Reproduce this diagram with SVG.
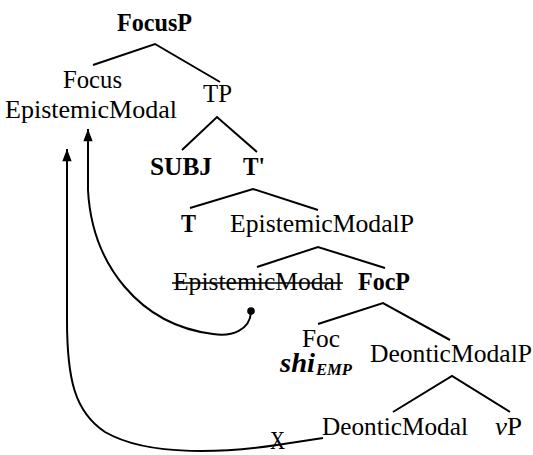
<svg xmlns="http://www.w3.org/2000/svg" width="533" height="455" viewBox="0 0 533 455">
<defs>
<style>
text{font-family:"Liberation Serif",Tinos,"Times New Roman",Times,"Nimbus Roman","Noto Serif","DejaVu Serif",serif;fill:#000}
.r{font-size:25.5px}
.b{font-size:24.5px;font-weight:bold}
.e{fill:none;stroke:#000;stroke-width:2;stroke-linejoin:miter}
.c{fill:none;stroke:#000;stroke-width:2}
</style>
<marker id="ah" markerUnits="userSpaceOnUse" markerWidth="14" markerHeight="14" viewBox="-14 -7 15 14" refX="0" refY="0" orient="auto">
<path d="M0,0 L-13,-5 L-13,5 Z" fill="#000"/>
</marker>
</defs>
<rect width="533" height="455" fill="#fff"/>
<g id="connectors">
<polyline class="e" points="93,65 155,44 220,82"/>
<polyline class="e" points="182,150 217,117 257,152"/>
<polyline class="e" points="190,208 253,189 318,210"/>
<polyline class="e" points="257,267 318,247 385,268"/>
<polyline class="e" points="318,324 383,303 450,340"/>
<polyline class="e" points="393,412 452,376 510,412"/>
<circle cx="251" cy="311" r="3.8" fill="#000"/>
<path class="c" d="M251,312 C250,330 232,337 213,334 C140,325 92,265 88,190 L88,129" marker-end="url(#ah)"/>
<path class="c" d="M323,438 L277,445 C230,452 150,458 105,432 C75,412 67,380 67,320 L67,149" marker-end="url(#ah)"/>
</g>
<g id="FocusP"><text class="b" x="117" y="31" textLength="75" lengthAdjust="spacingAndGlyphs">FocusP</text></g>
<g id="FocusEpistemicModal">
<text class="r" x="63" y="88" textLength="59" lengthAdjust="spacingAndGlyphs">Focus</text>
<text class="r" x="5" y="118" textLength="172" lengthAdjust="spacingAndGlyphs">EpistemicModal</text>
</g>
<g id="TP"><text class="r" x="203" y="102" textLength="29" lengthAdjust="spacingAndGlyphs">TP</text></g>
<g id="SUBJ"><text class="b" x="150" y="175" textLength="62" lengthAdjust="spacingAndGlyphs">SUBJ</text></g>
<g id="Tbar"><text class="b" x="243" y="175" textLength="22" lengthAdjust="spacingAndGlyphs">T'</text></g>
<g id="T"><text class="b" x="181" y="232" textLength="15" lengthAdjust="spacingAndGlyphs">T</text></g>
<g id="EpistemicModalP"><text class="r" x="230" y="232" textLength="184" lengthAdjust="spacingAndGlyphs">EpistemicModalP</text></g>
<g id="EpistemicModalTrace">
<text class="r" x="173" y="290" textLength="169" lengthAdjust="spacingAndGlyphs">EpistemicModal</text>
<line x1="172" y1="283" x2="343" y2="283" stroke="#000" stroke-width="1.6"/>
</g>
<g id="FocP"><text class="b" x="358" y="290" textLength="52" lengthAdjust="spacingAndGlyphs">FocP</text></g>
<g id="Foc">
<text class="r" x="302" y="347" textLength="38" lengthAdjust="spacingAndGlyphs">Foc</text>
<text x="280" y="372" font-weight="bold" font-style="italic" font-size="27" textLength="35" lengthAdjust="spacingAndGlyphs">shi</text>
<text x="316" y="375" font-weight="bold" font-style="italic" font-size="16" textLength="36" lengthAdjust="spacingAndGlyphs">EMP</text>
</g>
<g id="DeonticModalP"><text class="r" x="370" y="362" textLength="162" lengthAdjust="spacingAndGlyphs">DeonticModalP</text></g>
<g id="DeonticModal"><text class="r" x="322" y="435" textLength="146" lengthAdjust="spacingAndGlyphs">DeonticModal</text></g>
<g id="vP"><text class="r" x="495" y="435" textLength="27" lengthAdjust="spacingAndGlyphs"><tspan font-style="italic">v</tspan>P</text></g>
<g id="X"><text class="r" x="270" y="449" font-size="20px" textLength="15" lengthAdjust="spacingAndGlyphs">X</text></g>
</svg>
